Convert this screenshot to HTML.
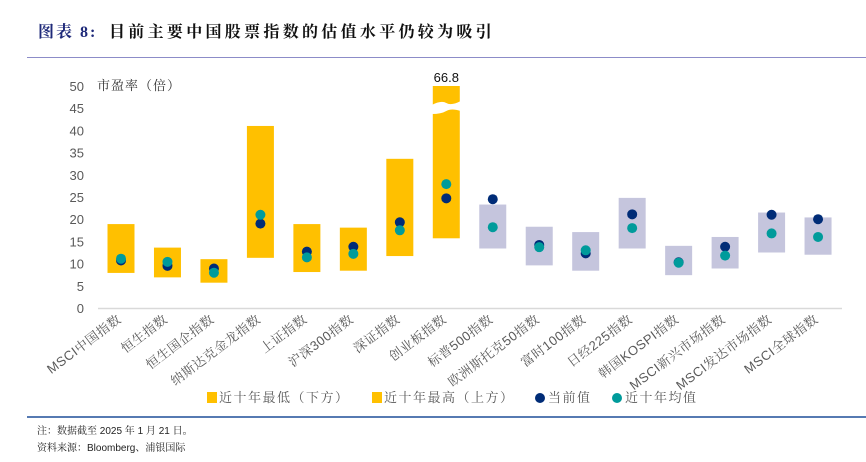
<!DOCTYPE html>
<html><head><meta charset="utf-8"><style>
body{margin:0;background:#fff;width:866px;height:457px;overflow:hidden;font-family:"Liberation Sans","Noto Sans CJK SC",sans-serif}
</style></head><body>
<svg width="866" height="457" xmlns="http://www.w3.org/2000/svg" font-family="Liberation Sans, Noto Sans CJK SC, sans-serif">
<text x="38" y="37" font-size="16" font-weight="bold" fill="#1f2a7a" font-family="Liberation Serif, Noto Serif CJK SC, serif" letter-spacing="2">图表 8:</text>
<text x="109" y="37" font-size="16" font-weight="bold" fill="#111" font-family="Liberation Serif, Noto Serif CJK SC, serif" letter-spacing="3.3">目前主要中国股票指数的估值水平仍较为吸引</text>
<line x1="27" y1="57.5" x2="866" y2="57.5" stroke="#8c8cc8" stroke-width="1"/>
<text x="97" y="90" font-size="13" fill="#333" font-family="Liberation Serif, Noto Serif CJK SC, serif" letter-spacing="1">市盈率（倍）</text>
<g id="yaxis"></g>
<g id="plot"></g>
<g id="xaxis"></g>
<g font-size="13" fill="#595959" font-family="Liberation Sans, Noto Serif CJK SC, serif" letter-spacing="1.5">
<rect x="207" y="392" width="10" height="11" fill="#FFC000"/>
<text x="219" y="402">近十年最低（下方）</text>
<rect x="372" y="392" width="10" height="11" fill="#FFC000"/>
<text x="384" y="402">近十年最高（上方）</text>
<circle cx="540" cy="398" r="5" fill="#002C77"/>
<text x="548" y="402">当前值</text>
<circle cx="617" cy="398" r="5" fill="#009B9B"/>
<text x="625" y="402">近十年均值</text>
</g>
<line x1="27" y1="417" x2="866" y2="417" stroke="#1f4e99" stroke-width="1.5"/>
<text x="37" y="434" font-size="10" fill="#222" font-family="Liberation Sans, Noto Serif CJK SC, serif">注：数据截至 2025 年 1 月 21 日。</text>
<text x="37" y="451" font-size="10" fill="#222" font-family="Liberation Sans, Noto Serif CJK SC, serif">资料来源：Bloomberg、浦银国际</text>
</svg>
<script>
const categories=["MSCI中国指数","恒生指数","恒生国企指数","纳斯达克金龙指数","上证指数","沪深300指数","深证指数","创业板指数","标普500指数","欧洲斯托克50指数","富时100指数","日经225指数","韩国KOSPI指数","MSCI新兴市场指数","MSCI发达市场指数","MSCI全球指数"];
const lowValues=[7.9,6.9,5.7,11.3,8.1,8.4,11.7,15.7,13.4,9.6,8.4,13.4,7.4,8.9,12.5,12.0];
const highValues=[18.9,13.6,11.0,41.0,18.9,18.1,33.6,66.8,23.3,18.3,17.1,24.8,14.0,16.0,21.5,20.4];
const currentValues=[10.7,9.5,8.9,19.0,12.7,13.8,19.3,24.7,24.5,14.2,12.3,21.1,10.3,13.8,21.0,20.0];
const averageValues=[11.1,10.4,7.95,21.0,11.4,12.2,17.5,27.9,18.2,13.7,13.0,18.0,10.2,11.8,16.8,16.0];
const chinaCount=8;
const yTicks=[0,5,10,15,20,25,30,35,40,45,50];
const yMax=50;
const NS="http://www.w3.org/2000/svg";
const y0=308,y1=86,xStart=121,xStep=46.47,bw=27;
const yScale=v=>y0-(Math.min(v,yMax))*(y0-y1)/yMax;
const xScale=i=>xStart+i*xStep;
function mk(tag,attrs,parent){const e=document.createElementNS(NS,tag);for(const k in attrs)e.setAttribute(k,attrs[k]);parent.appendChild(e);return e;}
const ya=document.getElementById('yaxis'),plot=document.getElementById('plot'),xa=document.getElementById('xaxis');
yTicks.forEach(t=>{const tx=mk('text',{x:84,y:yScale(t)+5,'text-anchor':'end','font-size':13,fill:'#595959'},ya);tx.textContent=t;

});
const base=mk('line',{x1:98,y1:308.5,x2:842,y2:308.5,stroke:'#d9d9d9','stroke-width':1.5},plot);


categories.forEach((c,i)=>{
const cx=xScale(i);
const col=i<chinaCount?'#FFC000':'#C5C5DD';
const top=yScale(highValues[i]),bot=yScale(lowValues[i]);
const r=mk('rect',{x:cx-bw/2,y:top,width:bw,height:bot-top,fill:col},plot);


if(highValues[i]>yMax){
const br=mk('path',{d:`M${cx-bw/2-1} ${top+19} Q${cx-5} ${top+14} ${cx} ${top+17} T${cx+bw/2+1} ${top+15} L${cx+bw/2+1} ${top+25} Q${cx+5} ${top+22} ${cx} ${top+25} T${cx-bw/2-1} ${top+28} Z`,fill:'#fff'},plot);


const lb=mk('text',{x:cx,y:top-4,'text-anchor':'middle','font-size':13,fill:'#111'},plot);lb.textContent=highValues[i];


}
const d1=mk('circle',{cx:cx,cy:yScale(currentValues[i]),r:5,fill:'#002C77'},plot);


const d2=mk('circle',{cx:cx,cy:yScale(averageValues[i]),r:5,fill:'#009B9B'},plot);


const t=mk('text',{x:0,y:0,'text-anchor':'end','font-size':13,fill:'#595959','font-family':'Liberation Sans, Noto Serif CJK SC, serif','letter-spacing':'0.5',transform:`translate(${cx+1},${321}) rotate(-37)`},xa);t.textContent=c;


});
</script>
</body></html>
